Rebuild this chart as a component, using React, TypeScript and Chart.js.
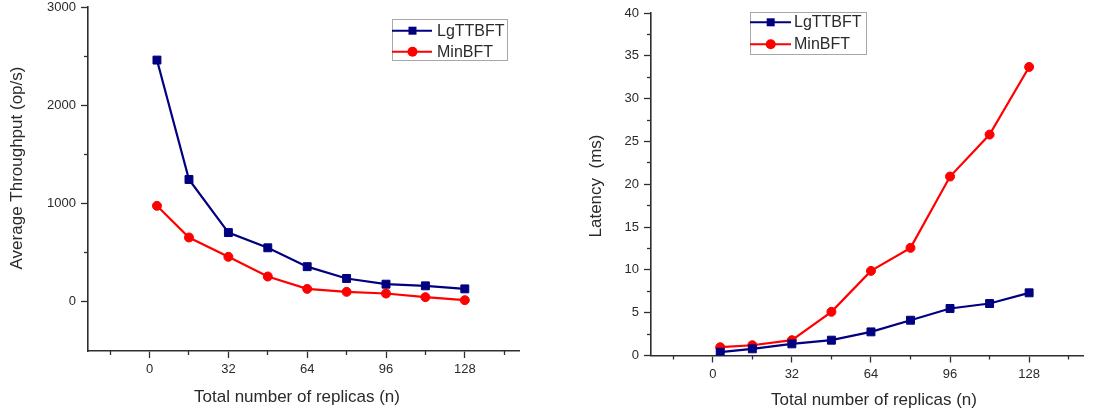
import { useEffect, useRef } from "react";
import { Chart, registerables } from "chart.js";

Chart.register(...registerables);

// ---------- data ----------
const replicas = [3, 16, 32, 48, 64, 80, 96, 112, 128];
const throughputLgTTBFT = [2460, 1245, 705, 550, 358, 238, 180, 163, 132];
const throughputMinBFT = [977, 655, 458, 258, 132, 102, 85, 48, 17];
const latencyLgTTBFT = [0.39, 0.78, 1.36, 1.79, 2.76, 4.12, 5.49, 6.07, 7.32];
const latencyMinBFT = [0.97, 1.2, 1.79, 5.1, 9.88, 12.57, 20.9, 25.8, 33.7];

const seriesNames = ["LgTTBFT", "MinBFT"];
const xMajorTicks = [0, 32, 64, 96, 128];
const xMinorTicks = [-16, 16, 48, 80, 112, 144];
const throughputMajorTicks = [0, 1000, 2000, 3000];
const throughputMinorTicks = [500, 1500, 2500];
const latencyMajorTicks = [0, 5, 10, 15, 20, 25, 30, 35, 40];
const latencyMinorTicks = [2.5, 7.5, 12.5, 17.5, 22.5, 27.5, 32.5, 37.5];

const xTitle = "Total number of replicas (n)";
const throughputTitle = "Average Throughput (op/s)";
const latencyTitle = "Latency  (ms)";

// ---------- styles ----------
const FONT = '"Liberation Sans", Arial, Helvetica, sans-serif';
const NAVY = "#000080";
const RED = "#ff0000";
const AXIS = "#2e2e2e";
const TEXT = "#2a2a2a";

type Layout = {
  width: number;
  height: number;
  areaLeft: number;
  areaTop: number;
  areaRight: number;
  areaBottom: number;
  yMin: number;
  yMax: number;
  yMajor: number[];
  yMinor: number[];
  yTitle: string;
  xTitlePos: [number, number];
  yTitlePos: [number, number];
  legendBox: [number, number, number, number];
  legendRows: number[];
  legendLine: [number, number];
  legendMarkerX: number;
  legendTextX: number;
  series: number[][];
};

function toPoints(ys: number[]) {
  return replicas.map((x, i) => ({ x, y: ys[i] }));
}

function makeConfig(L: Layout): any {
  const tickFont = { family: FONT, size: 13 };
  const decorations = {
    id: "decorations",
    afterDraw(chart: any) {
      const ctx = chart.ctx as CanvasRenderingContext2D;
      ctx.save();
      ctx.fillStyle = TEXT;
      ctx.font = `17px ${FONT}`;
      ctx.textAlign = "center";
      ctx.textBaseline = "middle";
      ctx.fillText(xTitle, L.xTitlePos[0], L.xTitlePos[1]);
      ctx.save();
      ctx.translate(L.yTitlePos[0], L.yTitlePos[1]);
      ctx.rotate(-Math.PI / 2);
      ctx.fillText(L.yTitle, 0, 0);
      ctx.restore();

      // legend
      const [bx, by, bw, bh] = L.legendBox;
      ctx.fillStyle = "#ffffff";
      ctx.fillRect(bx, by, bw, bh);
      ctx.strokeStyle = "#a8a8a8";
      ctx.lineWidth = 1;
      ctx.strokeRect(bx + 0.5, by + 0.5, bw, bh);
      chart.data.datasets.forEach((ds: any, i: number) => {
        const y = L.legendRows[i];
        ctx.strokeStyle = ds.borderColor;
        ctx.lineWidth = 2;
        ctx.beginPath();
        ctx.moveTo(L.legendLine[0], y);
        ctx.lineTo(L.legendLine[1], y);
        ctx.stroke();
        ctx.fillStyle = ds.borderColor;
        ctx.beginPath();
        if (ds.pointStyle === "rect") {
          ctx.rect(L.legendMarkerX - 4, y - 4, 8, 8);
        } else {
          ctx.arc(L.legendMarkerX, y, 5, 0, Math.PI * 2);
        }
        ctx.fill();
        ctx.fillStyle = TEXT;
        ctx.font = `16px ${FONT}`;
        ctx.textAlign = "left";
        ctx.textBaseline = "middle";
        ctx.fillText(ds.label, L.legendTextX, y + 0.5);
      });
      ctx.restore();
    },
  };

  const setTicks = (vals: number[]) => (s: any) => {
    s.ticks = vals.map((value) => ({ value }));
  };

  return {
    type: "line",
    data: {
      datasets: [
        {
          label: seriesNames[0],
          data: toPoints(L.series[0]),
          borderColor: NAVY,
          backgroundColor: NAVY,
          borderWidth: 2.2,
          pointStyle: "rect",
          pointRadius: 5.6,
          pointBorderWidth: 1,
          pointBorderColor: NAVY,
          pointBackgroundColor: NAVY,
          tension: 0,
        },
        {
          label: seriesNames[1],
          data: toPoints(L.series[1]),
          borderColor: RED,
          backgroundColor: RED,
          borderWidth: 2.2,
          pointStyle: "circle",
          pointRadius: 4.5,
          pointBorderWidth: 1,
          pointBorderColor: RED,
          pointBackgroundColor: RED,
          tension: 0,
        },
      ],
    },
    options: {
      animation: false,
      responsive: false,
      maintainAspectRatio: false,
      events: [],
      layout: {
        padding: { left: 0, top: L.areaTop, right: L.width - L.areaRight, bottom: 0 },
      },
      plugins: { legend: { display: false }, tooltip: { enabled: false } },
      scales: {
        x: {
          type: "linear",
          position: "bottom",
          weight: 1,
          min: -25,
          max: 150,
          afterBuildTicks: setTicks(xMajorTicks),
          afterFit: (s: any) => {
            s.height = L.height - L.areaBottom;
            s.paddingLeft = 0;
            s.paddingRight = 0;
          },
          grid: { drawOnChartArea: false, drawTicks: true, tickLength: 7, tickColor: AXIS, tickWidth: 1.3 },
          border: { display: true, color: AXIS, width: 1.6 },
          ticks: {
            font: tickFont,
            color: TEXT,
            padding: 4,
            maxRotation: 0,
            autoSkip: false,
            callback: (v: any) => String(v),
          },
        },
        x2: {
          type: "linear",
          position: "bottom",
          weight: 0,
          min: -25,
          max: 150,
          afterBuildTicks: setTicks(xMinorTicks),
          afterFit: (s: any) => {
            s.height = 0;
            s.paddingLeft = 0;
            s.paddingRight = 0;
          },
          grid: { drawOnChartArea: false, drawTicks: true, tickLength: 4, tickColor: AXIS, tickWidth: 1.3 },
          border: { display: false },
          ticks: { display: false },
        },
        y: {
          type: "linear",
          position: "left",
          weight: 1,
          min: L.yMin,
          max: L.yMax,
          afterBuildTicks: setTicks(L.yMajor),
          afterFit: (s: any) => {
            s.width = L.areaLeft;
            s.paddingTop = 0;
            s.paddingBottom = 0;
          },
          grid: { drawOnChartArea: false, drawTicks: true, tickLength: 7, tickColor: AXIS, tickWidth: 1.3 },
          border: { display: true, color: AXIS, width: 1.6 },
          ticks: {
            font: tickFont,
            color: TEXT,
            padding: 5,
            autoSkip: false,
            callback: (v: any) => String(v),
          },
        },
        y2: {
          type: "linear",
          position: "left",
          weight: 0,
          min: L.yMin,
          max: L.yMax,
          afterBuildTicks: setTicks(L.yMinor),
          afterFit: (s: any) => {
            s.width = 0;
            s.paddingTop = 0;
            s.paddingBottom = 0;
          },
          grid: { drawOnChartArea: false, drawTicks: true, tickLength: 4, tickColor: AXIS, tickWidth: 1.3 },
          border: { display: false },
          ticks: { display: false },
        },
      },
    },
    plugins: [decorations],
  };
}

const leftLayout: Layout = {
  width: 548,
  height: 414,
  areaLeft: 88,
  areaTop: 7,
  areaRight: 519,
  areaBottom: 351,
  yMin: -500,
  yMax: 3000,
  yMajor: throughputMajorTicks,
  yMinor: throughputMinorTicks,
  yTitle: throughputTitle,
  xTitlePos: [297, 397],
  yTitlePos: [17, 168],
  legendBox: [392, 19, 115, 41],
  legendRows: [30.7, 51.7],
  legendLine: [392, 432],
  legendMarkerX: 412.5,
  legendTextX: 437,
  series: [throughputLgTTBFT, throughputMinBFT],
};

const rightLayout: Layout = {
  width: 548,
  height: 414,
  areaLeft: 103,
  areaTop: 13,
  areaRight: 535.5,
  areaBottom: 355.5,
  yMin: 0,
  yMax: 40,
  yMajor: latencyMajorTicks,
  yMinor: latencyMinorTicks,
  yTitle: latencyTitle,
  xTitlePos: [326, 400],
  yTitlePos: [48, 186],
  legendBox: [202, 12, 116, 42],
  legendRows: [22.3, 44.3],
  legendLine: [202, 243],
  legendMarkerX: 222.7,
  legendTextX: 246,
  series: [latencyLgTTBFT, latencyMinBFT],
};

function ChartCanvas({ layout, left }: { layout: Layout; left: number }) {
  const ref = useRef<HTMLCanvasElement | null>(null);
  useEffect(() => {
    if (!ref.current) return;
    const chart = new Chart(ref.current, makeConfig(layout));
    return () => chart.destroy();
  }, [layout]);
  return (
    <canvas
      ref={ref}
      width={layout.width}
      height={layout.height}
      style={{
        position: "absolute",
        left,
        top: 0,
        width: layout.width,
        height: layout.height,
        display: "block",
      }}
    />
  );
}

export default function App() {
  return (
    <div
      style={{
        position: "absolute",
        left: 0,
        top: 0,
        width: 1096,
        height: 414,
        background: "#ffffff",
        overflow: "hidden",
      }}
    >
      <ChartCanvas layout={leftLayout} left={0} />
      <ChartCanvas layout={rightLayout} left={548} />
    </div>
  );
}
